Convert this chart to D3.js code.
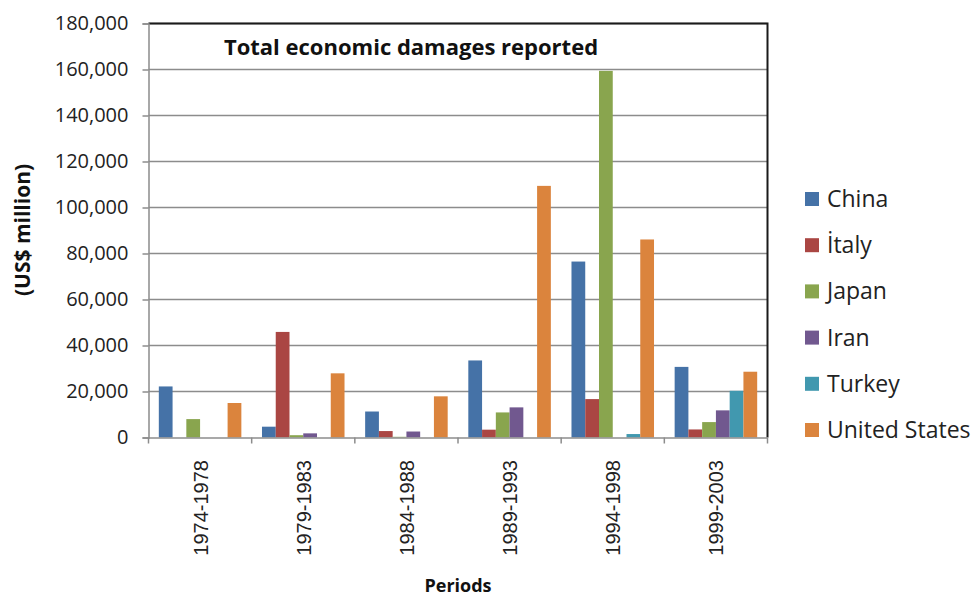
<!DOCTYPE html>
<html><head><meta charset="utf-8">
<script src="https://cdn.jsdelivr.net/npm/d3@7"></script>
<style>
html,body{margin:0;padding:0;background:#fff;}
svg{display:block;font-family:"Open Sans","Noto Sans",sans-serif;}
</style></head>
<body><svg id="chart" width="974" height="596"></svg>
<script>
const periods = ["1974-1978","1979-1983","1984-1988","1989-1993","1994-1998","1999-2003"];
const countries = ["China","İtaly","Japan","Iran","Turkey","United States"];
const colors = ["#4572A7","#AA4643","#89A54E","#71588F","#4198AF","#DB843D"];
const china  = [22200, 4700, 11300, 33500, 76500, 30700];
const italy  = [0, 45900, 2800, 3400, 16700, 3500];
const japan  = [8000, 1000, 300, 10900, 159400, 6700];
const iran   = [0, 1800, 2600, 13100, 0, 11800];
const turkey = [0, 0, 0, 0, 1500, 20300];
const usa    = [15000, 27900, 17900, 109400, 86100, 28600];
const yTicks = [0,20000,40000,60000,80000,100000,120000,140000,160000,180000];
const seriesValues = [china, italy, japan, iran, turkey, usa];

const svg = d3.select("#chart");
const L = 148.5, R = 767.5, T = 23.5, B = 437.5;

const x0 = d3.scaleBand().domain(periods).range([L, R]).paddingInner(0).paddingOuter(0);
const x1 = d3.scaleBand().domain(countries).range([0, x0.bandwidth()]).paddingInner(0).paddingOuter(0.75);
const y = d3.scaleLinear().domain([0, 180000]).range([B, T]);

// gridlines
svg.append("g").selectAll("line").data(yTicks.slice(1)).join("line")
  .attr("x1", L).attr("x2", R).attr("y1", d => y(d)).attr("y2", d => y(d))
  .attr("stroke", "#8c8c8c").attr("stroke-width", 1.5);

// bars
const groups = svg.append("g").selectAll("g").data(periods).join("g")
  .attr("transform", p => `translate(${x0(p)},0)`);
groups.selectAll("rect").data((p, i) => countries.map((c, j) => ({c, j, v: seriesValues[j][i]})))
  .join("rect")
  .attr("x", d => x1(d.c)).attr("width", x1.bandwidth())
  .attr("y", d => y(d.v)).attr("height", d => B - y(d.v))
  .attr("fill", d => colors[d.j]);

// plot border (top/right dark)
svg.append("path").attr("d", `M${L},${T}H${R}V${B}`).attr("fill", "none")
  .attr("stroke", "#1a1a1a").attr("stroke-width", 2);

// y axis
const yAxis = d3.axisLeft(y).tickValues(yTicks).tickFormat(d3.format(",")).tickSize(6).tickPadding(14);
const gy = svg.append("g").attr("transform", `translate(${L},0)`).call(yAxis);
gy.select(".domain").attr("stroke", "#8c8c8c").attr("stroke-width", 1.5);
gy.selectAll(".tick line").attr("stroke", "#8c8c8c").attr("stroke-width", 1.5);
gy.selectAll(".tick text").attr("font-size", 20).attr("fill", "#222").attr("font-family", "Open Sans");

// x axis
const xAxis = d3.axisBottom(x0).tickSize(0).tickFormat("");
const gx = svg.append("g").attr("transform", `translate(0,${B})`).call(xAxis);
gx.select(".domain").attr("stroke", "#8c8c8c").attr("stroke-width", 1.5);
gx.selectAll(".tick").remove();
const bounds = periods.map(p => x0(p)).concat([R]);
gx.selectAll("line.sep").data(bounds).join("line").attr("class", "sep")
  .attr("x1", d => d).attr("x2", d => d).attr("y1", 0).attr("y2", 6)
  .attr("stroke", "#8c8c8c").attr("stroke-width", 1.5);
svg.append("g").selectAll("text").data(periods).join("text")
  .attr("transform", p => `translate(${x0(p) + x0.bandwidth()/2 + 7.5},460) rotate(-90)`)
  .attr("text-anchor", "end")
  .attr("font-family", "Liberation Sans, Arial, sans-serif")
  .attr("font-size", 20).attr("fill", "#222")
  .text(p => p);

// title
svg.append("text").attr("x", 411).attr("y", 55).attr("text-anchor", "middle")
  .attr("font-size", 22).attr("font-weight", "bold").attr("fill", "#111")
  .text("Total economic damages reported");

// y label
svg.append("text").attr("transform", "translate(30,230) rotate(-90)").attr("text-anchor", "middle")
  .attr("font-size", 21).attr("font-weight", "bold").attr("fill", "#111")
  .text("(US$ million)");

// x label
svg.append("text").attr("x", 458).attr("y", 592).attr("text-anchor", "middle")
  .attr("font-size", 18).attr("font-weight", "bold").attr("fill", "#111")
  .text("Periods");

// legend
const lg = svg.append("g").selectAll("g").data(countries).join("g")
  .attr("transform", (d, i) => `translate(805,${199 + i * 46.2})`);
lg.append("rect").attr("x", 0).attr("y", -7).attr("width", 14).attr("height", 14)
  .attr("fill", (d, i) => colors[i]);
lg.append("text").attr("x", 22).attr("y", 8).attr("font-size", 23).attr("fill", "#222").text(d => d);
</script></body></html>
